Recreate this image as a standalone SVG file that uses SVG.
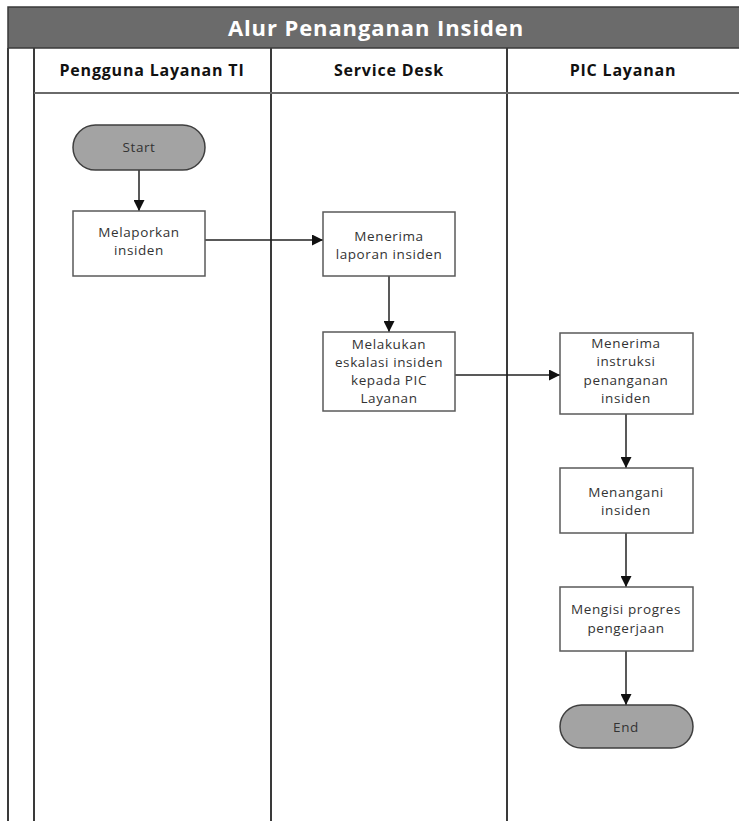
<svg xmlns="http://www.w3.org/2000/svg" width="739" height="821" viewBox="0 0 739 821">
<defs>
<style>
.lane{stroke:#3a3a3a;stroke-width:2;fill:none}
.box{fill:#ffffff;stroke:#5a5a5a;stroke-width:1.5}
.term{fill:#a3a3a3;stroke:#3f3f3f;stroke-width:1.5}
.t{font-family:"Open Sans","Liberation Sans",sans-serif;font-size:13.5px;letter-spacing:0.6px;fill:#333;text-anchor:middle}
.h{font-family:"Open Sans","Liberation Sans",sans-serif;font-size:16px;letter-spacing:0.8px;font-weight:bold;fill:#111;text-anchor:middle}
.title{font-family:"Open Sans","Liberation Sans",sans-serif;font-size:22px;letter-spacing:0.9px;font-weight:bold;fill:#fff;text-anchor:middle}
.c{stroke:#222;stroke-width:1.5;fill:none;marker-end:url(#ah)}
</style>
<marker id="ah" viewBox="0 0 10 10" refX="10" refY="5" markerWidth="11" markerHeight="11" markerUnits="userSpaceOnUse" orient="auto">
<path d="M0,0 L10,5 L0,10 z" fill="#111"/>
</marker>
</defs>
<rect width="739" height="821" fill="#fff"/>
<g id="pool">
<rect x="8" y="7" width="740" height="41" fill="#6b6b6b" stroke="#3a3a3a" stroke-width="1.5"/>
<text class="title" x="376" y="36">Alur Penanganan Insiden</text>
<line class="lane" x1="8" y1="48" x2="8" y2="821"/>
<line class="lane" x1="34" y1="48" x2="34" y2="821"/>
<line class="lane" x1="271" y1="48" x2="271" y2="821"/>
<line class="lane" x1="507" y1="48" x2="507" y2="821"/>
<line x1="34" y1="93" x2="739" y2="93" stroke="#6a6a6a" stroke-width="2"/>
<text class="h" x="152" y="76">Pengguna Layanan TI</text>
<text class="h" x="389" y="76">Service Desk</text>
<text class="h" x="623" y="76">PIC Layanan</text>
</g>
<g id="connectors">
<line class="c" x1="139" y1="170" x2="139" y2="211"/>
<line class="c" x1="205" y1="240" x2="323" y2="240"/>
<line class="c" x1="389" y1="276" x2="389" y2="332"/>
<line class="c" x1="455" y1="375" x2="560" y2="375"/>
<line class="c" x1="626" y1="414" x2="626" y2="468"/>
<line class="c" x1="626" y1="533" x2="626" y2="587"/>
<line class="c" x1="626" y1="651" x2="626" y2="705"/>
</g>
<g id="start">
<rect class="term" x="73" y="125" width="132" height="45" rx="22.5"/>
<text class="t" x="139" y="152">Start</text>
</g>
<g id="melaporkan">
<rect class="box" x="73" y="211" width="132" height="65"/>
<text class="t" x="139" y="237">Melaporkan</text>
<text class="t" x="139" y="255">insiden</text>
</g>
<g id="menerima-laporan">
<rect class="box" x="323" y="212" width="132" height="64"/>
<text class="t" x="389" y="241">Menerima</text>
<text class="t" x="389" y="259">laporan insiden</text>
</g>
<g id="melakukan">
<rect class="box" x="323" y="332" width="132" height="79"/>
<text class="t" x="389" y="349">Melakukan</text>
<text class="t" x="389" y="367">eskalasi insiden</text>
<text class="t" x="389" y="385">kepada PIC</text>
<text class="t" x="389" y="403">Layanan</text>
</g>
<g id="menerima-instruksi">
<rect class="box" x="560" y="333" width="133" height="81"/>
<text class="t" x="626" y="348">Menerima</text>
<text class="t" x="626" y="366">instruksi</text>
<text class="t" x="626" y="385">penanganan</text>
<text class="t" x="626" y="403">insiden</text>
</g>
<g id="menangani">
<rect class="box" x="560" y="468" width="133" height="65"/>
<text class="t" x="626" y="497">Menangani</text>
<text class="t" x="626" y="515">insiden</text>
</g>
<g id="mengisi">
<rect class="box" x="560" y="587" width="133" height="64"/>
<text class="t" x="626" y="614">Mengisi progres</text>
<text class="t" x="626" y="633">pengerjaan</text>
</g>
<g id="end">
<rect class="term" x="560" y="705" width="133" height="43" rx="21.5"/>
<text class="t" x="626" y="732">End</text>
</g>
</svg>
